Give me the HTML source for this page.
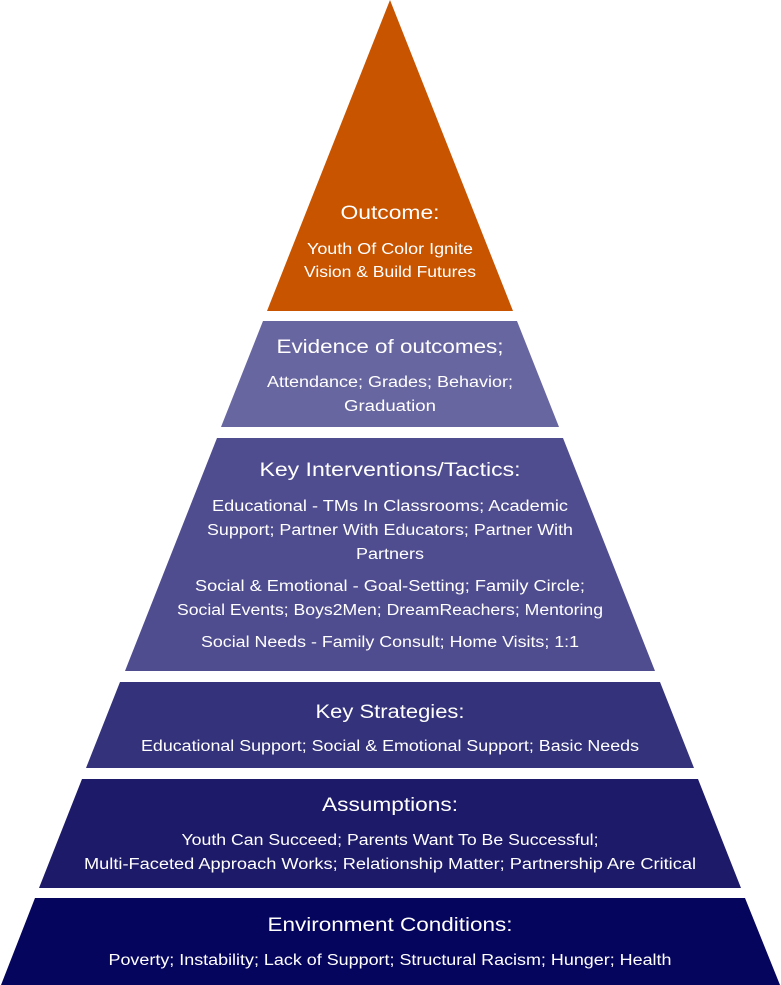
<!DOCTYPE html>
<html><head><meta charset="utf-8"><style>
html,body{margin:0;padding:0;background:#fff;}
svg{display:block;}
text{font-family:"Liberation Sans",sans-serif;fill:#fff;text-anchor:middle;}
.t{font-size:19px;}
.b{font-size:15.5px;}
</style></head><body>
<svg width="781" height="985" viewBox="0 0 781 985" xmlns="http://www.w3.org/2000/svg">
<polygon points="390,0 513,311 267,311" fill="#C85400"/>
<polygon points="263,321 517,321 559,427 221,427" fill="#6866A0"/>
<polygon points="217,438 563,438 655,671 125,671" fill="#4F4D8F"/>
<polygon points="120,682 660,682 694,768 86,768" fill="#33327A"/>
<polygon points="82,779 698,779 741,888 39,888" fill="#1D1A6A"/>
<polygon points="35,898 745,898 780,985 1,985" fill="#06055E"/>

<text class="t" x="390" y="219" textLength="99" lengthAdjust="spacingAndGlyphs">Outcome:</text>
<text class="b" x="390" y="254" textLength="166" lengthAdjust="spacingAndGlyphs">Youth Of Color Ignite</text>
<text class="b" x="390" y="277" textLength="172" lengthAdjust="spacingAndGlyphs">Vision &amp; Build Futures</text>

<text class="t" x="390" y="353" textLength="227" lengthAdjust="spacingAndGlyphs">Evidence of outcomes;</text>
<text class="b" x="390" y="387" textLength="246" lengthAdjust="spacingAndGlyphs">Attendance; Grades; Behavior;</text>
<text class="b" x="390" y="411" textLength="92" lengthAdjust="spacingAndGlyphs">Graduation</text>

<text class="t" x="390" y="476" textLength="261" lengthAdjust="spacingAndGlyphs">Key Interventions/Tactics:</text>
<text class="b" x="390" y="511" textLength="356" lengthAdjust="spacingAndGlyphs">Educational - TMs In Classrooms; Academic</text>
<text class="b" x="390" y="535" textLength="366" lengthAdjust="spacingAndGlyphs">Support; Partner With Educators; Partner With</text>
<text class="b" x="390" y="559" textLength="68" lengthAdjust="spacingAndGlyphs">Partners</text>
<text class="b" x="390" y="591" textLength="390" lengthAdjust="spacingAndGlyphs">Social &amp; Emotional - Goal-Setting; Family Circle;</text>
<text class="b" x="390" y="615" textLength="426" lengthAdjust="spacingAndGlyphs">Social Events; Boys2Men; DreamReachers; Mentoring</text>
<text class="b" x="390" y="647" textLength="378" lengthAdjust="spacingAndGlyphs">Social Needs - Family Consult; Home Visits; 1:1</text>

<text class="t" x="390" y="718" textLength="149" lengthAdjust="spacingAndGlyphs">Key Strategies:</text>
<text class="b" x="390" y="751" textLength="498" lengthAdjust="spacingAndGlyphs">Educational Support; Social &amp; Emotional Support; Basic Needs</text>

<text class="t" x="390" y="811" textLength="136" lengthAdjust="spacingAndGlyphs">Assumptions:</text>
<text class="b" x="390" y="845" textLength="417" lengthAdjust="spacingAndGlyphs">Youth Can Succeed; Parents Want To Be Successful;</text>
<text class="b" x="390" y="869" textLength="612" lengthAdjust="spacingAndGlyphs">Multi-Faceted Approach Works; Relationship Matter; Partnership Are Critical</text>

<text class="t" x="390" y="931" textLength="245" lengthAdjust="spacingAndGlyphs">Environment Conditions:</text>
<text class="b" x="390" y="965" textLength="563" lengthAdjust="spacingAndGlyphs">Poverty; Instability; Lack of Support; Structural Racism; Hunger; Health</text>
</svg>
</body></html>
